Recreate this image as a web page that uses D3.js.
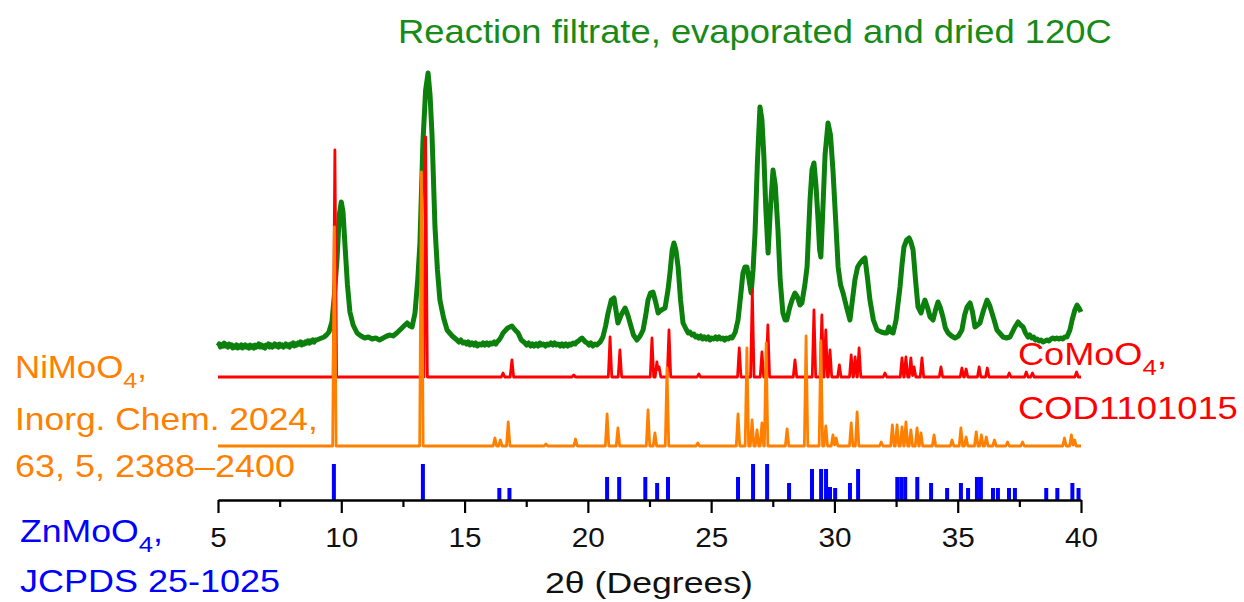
<!DOCTYPE html>
<html>
<head>
<meta charset="utf-8">
<script src="https://cdn.jsdelivr.net/npm/d3@7"></script>
<style>
  body { margin: 0; background: #fff; }
  text { font-family: "Liberation Sans", Arial, sans-serif; }
</style>
</head>
<body>
<div id="chart"><svg></svg></div>
<script>
var width = 1244;
var height = 602;

// measured pattern, 2theta vs intensity (a.u.)
var filtrate = [
  [5.00,4],[5.05,6],[5.10,3],[5.15,5],[5.20,4],[5.25,7],[5.30,4],[5.35,5],[5.40,3],[5.45,6],[5.50,4],[5.55,5],[5.60,2],[5.65,4],[5.70,3],[5.75,5],[5.80,2],[5.85,4],[5.90,3],[5.95,5],
  [6.00,2],[6.05,4],[6.10,5],[6.15,3],[6.20,4],[6.25,2],[6.30,5],[6.35,3],[6.40,4],[6.45,2],[6.50,5],[6.55,3],[6.60,4],[6.65,6],[6.70,3],[6.75,5],[6.80,3],[6.85,4],[6.90,2],[6.95,5],
  [7.00,4],[7.05,6],[7.10,3],[7.15,5],[7.20,3],[7.25,4],[7.30,6],[7.35,4],[7.40,5],[7.45,3],[7.50,6],[7.55,4],[7.60,5],[7.65,3],[7.70,4],[7.75,6],[7.80,4],[7.85,5],[7.90,3],[7.95,6],
  [8.00,5],[8.05,7],[8.10,4],[8.15,6],[8.20,5],[8.25,7],[8.30,6],[8.35,8],[8.40,5],[8.45,7],[8.50,6],[8.55,8],[8.60,7],[8.65,9],[8.70,7],[8.75,9],[8.80,8],[8.85,10],[8.90,8],[8.95,10],
  [9.00,10],[9.10,11],[9.20,12],[9.30,13],[9.40,15],[9.50,18],[9.62,28],[9.72,55],[9.83,92],[9.92,135],[10.00,148],[10.07,138],[10.15,105],[10.25,65],[10.35,38],[10.48,25],[10.64,17],[10.80,14],[10.95,12],[11.10,13],[11.25,11],[11.40,12],[11.55,10],[11.70,12],[11.85,14],[11.98,15],[12.10,14],[12.25,17],[12.46,22],[12.58,25],[12.67,27],[12.78,24],[12.87,23],[12.99,37],[13.10,70],[13.19,107],[13.31,207],[13.42,260],[13.52,277],[13.60,255],[13.68,215],[13.80,123],[13.90,80],[14.00,50],[14.15,32],[14.29,20],[14.50,14],
  [14.69,10],[14.77,8],[14.85,10],[14.93,7],[15.00,8],[15.08,6],[15.15,8],[15.22,5],[15.30,7],[15.38,5],[15.45,7],[15.52,4],[15.60,6],[15.68,5],[15.75,7],[15.82,5],[15.90,7],[15.98,5],[16.05,7],[16.12,6],[16.20,8],[16.27,6],[16.32,8],[16.40,10],
  [16.48,13],[16.56,17],[16.75,22],[16.92,24],[17.05,20],[17.17,17],[17.30,10],
  [17.45,7],[17.52,5],[17.60,7],[17.68,4],[17.75,6],[17.82,4],[17.90,6],[17.98,4],[18.05,7],[18.12,5],[18.20,6],[18.28,4],[18.35,6],[18.42,5],[18.50,7],[18.58,5],[18.65,7],[18.72,5],[18.80,6],[18.88,4],[18.95,6],[19.02,4],[19.10,6],[19.18,4],[19.25,6],[19.32,5],[19.40,7],[19.48,6],[19.55,8],[19.62,9],[19.70,11],[19.76,12],[19.83,10],[19.90,8],[19.98,7],[20.05,5],[20.12,7],[20.20,4],[20.28,6],[20.37,5],[20.45,7],
  [20.50,8],[20.61,13],[20.72,24],[20.82,37],[20.95,50],[21.06,52],[21.15,38],[21.22,27],[21.35,35],[21.51,42],[21.62,35],[21.71,27],[21.85,15],[21.99,10],[22.12,14],[22.24,20],[22.35,35],[22.44,50],[22.54,57],[22.64,58],[22.75,48],[22.85,37],[22.98,40],[23.13,42],[23.25,60],[23.33,77],[23.42,100],[23.49,107],[23.57,100],[23.66,83],[23.76,50],[23.86,27],
  [24.00,20],[24.07,17],[24.14,18],[24.22,15],[24.30,16],[24.37,13],[24.43,14],[24.50,12],[24.58,14],[24.65,11],[24.72,13],[24.80,11],[24.88,13],[24.95,10],[25.02,12],[25.10,11],[25.18,13],[25.25,11],[25.32,13],[25.40,11],[25.48,12],[25.55,10],[25.62,12],[25.70,11],[25.78,13],[25.85,12],[25.92,15],[25.98,18],
  [26.09,30],[26.20,55],[26.29,77],[26.37,83],[26.45,83],[26.54,70],[26.62,57],[26.70,80],[26.78,117],[26.88,190],[26.98,243],[27.06,230],[27.14,193],[27.22,140],[27.31,97],[27.40,140],[27.51,180],[27.60,165],[27.71,120],[27.80,70],[27.91,37],[28.00,30],[28.07,30],[28.18,42],[28.28,50],[28.40,57],[28.50,53],[28.60,45],[28.68,47],[28.80,65],[28.89,83],[29.01,150],[29.09,180],[29.17,187],[29.25,165],[29.33,133],[29.40,100],[29.45,93],[29.53,140],[29.62,195],[29.74,227],[29.84,215],[29.94,180],[30.05,130],[30.15,83],[30.25,65],[30.35,57],[30.50,42],[30.63,30],[30.73,50],[30.83,70],[30.94,83],[31.04,87],[31.14,90],[31.24,92],[31.34,72],[31.44,50],[31.58,30],[31.73,20],[31.90,18],[32.05,17],[32.13,17],[32.21,23],[32.30,18],[32.38,17],[32.50,30],[32.66,63],[32.74,85],[32.82,103],[32.93,110],[33.03,112],[33.10,108],[33.19,100],[33.29,70],[33.39,43],[33.51,37],[33.60,45],[33.67,50],[33.78,42],[33.88,33],[34.00,30],[34.10,40],[34.20,48],[34.30,42],[34.40,33],[34.50,22],[34.61,17],[34.75,14],[34.89,12],[35.03,14],[35.17,20],[35.28,35],[35.38,43],[35.50,47],[35.60,38],[35.70,23],[35.80,25],[35.90,27],[36.05,40],[36.19,50],[36.29,45],[36.39,37],[36.50,28],[36.59,20],[36.70,17],[36.84,13],[36.98,12],[37.12,13],[37.22,18],[37.32,23],[37.45,28],[37.55,25],[37.65,23],[37.75,17],
  [37.85,13],[37.92,15],[38.00,12],[38.08,13],[38.15,10],[38.22,11],[38.30,9],[38.38,10],[38.46,8],[38.54,9],[38.62,10],[38.70,9],[38.78,11],[38.86,12],[38.94,11],[39.02,12],[39.10,11],[39.18,12],[39.26,11],[39.34,13],[39.43,13],
  [39.55,20],[39.64,30],[39.75,40],[39.84,45],[39.92,42],[40.00,38]
];

// CoMoO4 reference peaks [2theta, intensity]
var coPeaks = [
  [9.74,227],[13.42,240],[16.56,4],[16.92,17],[19.43,2],[20.90,40],[21.30,27],[22.60,39],[22.80,15],[22.89,10],[23.29,47],[24.50,3],[26.14,29],[26.67,87],[27.06,25],[27.30,52],[28.40,17],[29.17,67],[29.49,62],[29.65,47],[29.82,27],[30.20,12],[30.68,22],[30.84,20],[31.00,29],[32.05,4],[32.74,19],[32.90,20],[33.10,19],[33.23,10],[33.55,19],[34.32,10],[35.17,9],[35.34,8],[35.87,10],[36.20,9],[37.09,4],[37.78,5],[38.03,4],[39.82,5]
];

// NiMoO4 reference peaks
var niPeaks = [
  [9.72,219],[13.25,274],[16.23,8],[16.45,6],[16.77,24],[18.30,2],[19.50,7],[20.78,32],[21.22,18],[22.44,36],[22.72,13],[23.21,78],[24.46,3],[26.09,32],[26.45,98],[26.66,26],[26.86,16],[27.06,23],[27.23,103],[28.08,17],[28.85,110],[29.45,105],[29.65,20],[29.94,11],[30.07,8],[30.68,23],[30.92,34],[31.90,4],[32.35,21],[32.54,21],[32.74,19],[32.90,24],[33.10,16],[33.35,18],[33.51,13],[34.04,11],[34.77,6],[35.13,18],[35.34,9],[35.75,14],[35.96,11],[36.16,9],[36.49,6],[37.02,4],[37.63,4],[39.33,8],[39.61,11],[39.74,6]
];

// ZnMoO4 JCPDS 25-1025 sticks
var znSticks = [
  [9.70,36],[13.31,36],[16.41,12],[16.82,12],[20.78,23],[21.27,23],[22.33,23],[22.81,17],[23.25,23],[26.09,23],[26.70,36],[27.27,36],[28.16,17],[29.09,31],[29.46,31],[29.66,31],[29.82,13],[30.03,12],[30.63,17],[30.96,31],[32.55,23],[32.71,23],[32.87,23],[33.36,23],[33.92,17],[34.57,12],[35.13,17],[35.42,12],[35.78,23],[35.94,23],[36.43,12],[36.63,12],[37.08,12],[37.32,12],[38.59,12],[39.04,12],[39.65,17],[39.90,12]
];

var majorTicks = [5, 10, 15, 20, 25, 30, 35, 40];
var minorTicks = [7.5, 12.5, 17.5, 22.5, 27.5, 32.5, 37.5];

var x = d3.scaleLinear().domain([5, 40]).range([218, 1081]);
var y = d3.scaleLinear().domain([0, 440]).range([500, 60]);

var svg = d3.select("#chart").select("svg")
    .attr("width", width)
    .attr("height", height);

// peak list -> spike line (max envelope of narrow triangles)
function spikes(peaks, w) {
  var xs = [5, 40];
  peaks.forEach(function(p) { xs.push(p[0] - w, p[0], p[0] + w); });
  xs = xs.filter(function(v) { return v >= 5 && v <= 40; }).sort(d3.ascending);
  return xs.map(function(v) {
    var h = d3.max(peaks, function(p) { return Math.max(0, p[1] * (1 - Math.abs(v - p[0]) / w)); });
    return [v, h];
  });
}

function lineAt(offset) {
  return d3.line()
    .x(function(d) { return x(d[0]); })
    .y(function(d) { return y(d[1] + offset); });
}

svg.append("path")
    .attr("d", lineAt(150)(filtrate))
    .attr("fill", "none")
    .attr("stroke", "#0c800c")
    .attr("stroke-width", 5)
    .attr("stroke-linejoin", "round");

svg.append("path")
    .attr("d", lineAt(123)(spikes(coPeaks, 0.07)))
    .attr("fill", "none")
    .attr("stroke", "#ff0000")
    .attr("stroke-width", 2.8)
    .attr("stroke-linejoin", "round");

svg.append("path")
    .attr("d", lineAt(54)(spikes(niPeaks, 0.07)))
    .attr("fill", "none")
    .attr("stroke", "#ff8000")
    .attr("stroke-width", 2.8)
    .attr("stroke-linejoin", "round");

svg.selectAll("rect.zn")
    .data(znSticks)
  .enter().append("rect")
    .attr("class", "zn")
    .attr("x", function(d) { return x(d[0]) - 2; })
    .attr("y", function(d) { return y(d[1]); })
    .attr("width", 4)
    .attr("height", function(d) { return y(0) - y(d[1]); })
    .attr("fill", "#0000ff");

// axis
var minorAxis = d3.axisBottom(x).tickValues(minorTicks).tickSize(7).tickSizeOuter(0).tickFormat("");
var majorAxis = d3.axisBottom(x).tickValues(majorTicks).tickSize(13).tickSizeOuter(0).tickFormat(d3.format("d"));

svg.append("g")
    .attr("transform", "translate(0,500)")
    .call(minorAxis)
    .call(function(g) { g.select(".domain").remove(); })
    .selectAll("line").attr("stroke-width", 2.2);

var gx = svg.append("g")
    .attr("transform", "translate(0,500)")
    .call(majorAxis);
gx.select(".domain").attr("stroke-width", 2.4);
gx.selectAll("line").attr("stroke-width", 2.2);
gx.selectAll("text")
    .attr("y", 47)
    .attr("dy", null)
    .attr("font-size", 27)
    .attr("font-family", "Liberation Sans, Arial, sans-serif")
    .attr("fill", "#111")
    .attr("transform", "scale(1.1,1)");

// text with a horizontal stretch so it spans the measured width
function label(parts, tx, ty, targetW, size, colour, anchor) {
  var t = svg.append("text")
      .attr("font-size", size)
      .attr("fill", colour)
      .attr("text-anchor", anchor || "start");
  parts.forEach(function(p) {
    var s = t.append("tspan").text(p.t);
    if (p.sub) s.attr("font-size", size * 0.72).attr("dy", size * 0.32);
    if (p.back) s.attr("dy", -size * 0.32);
  });
  var w = t.node().getBBox().width;
  t.attr("transform", "translate(" + tx + "," + ty + ") scale(" + (targetW / w) + ",1)");
  return t;
}

label([{t: "Reaction filtrate, evaporated and dried 120C"}], 398, 43, 714, 33, "#178a17");
label([{t: "NiMoO"}, {t: "4", sub: true}, {t: ",", back: true}], 15, 378, 132, 31, "#ff8000");
label([{t: "Inorg. Chem. 2024,"}], 15, 430, 303, 31, "#ff8000");
label([{t: "63, 5, 2388\u20132400"}], 15, 477, 280, 31, "#ff8000");
label([{t: "ZnMoO"}, {t: "4", sub: true}, {t: ",", back: true}], 20, 542, 143, 31, "#0000ff");
label([{t: "JCPDS 25-1025"}], 20, 592, 260, 31, "#0000ff");
label([{t: "CoMoO"}, {t: "4", sub: true}, {t: ",", back: true}], 1018, 365, 149, 31, "#ff0000");
label([{t: "COD1101015"}], 1018, 419, 220, 31, "#ff0000");
label([{t: "2\u03b8 (Degrees)"}], 649, 593, 208, 30, "#111", "middle");
</script>
</body>
</html>
